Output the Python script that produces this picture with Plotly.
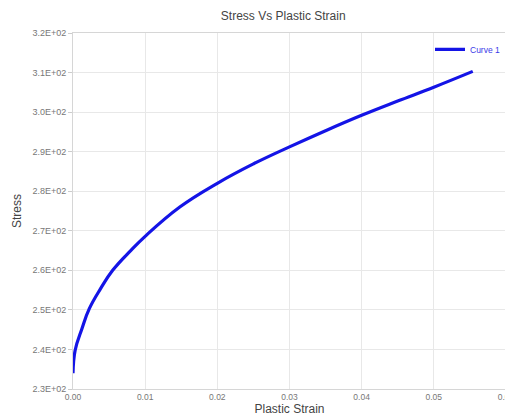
import plotly.graph_objects as go

strain = [0.0, 0.0003, 0.00125, 0.00226, 0.0038, 0.0055, 0.008, 0.01, 0.0148, 0.02, 0.025, 0.03, 0.035, 0.04, 0.045, 0.05, 0.0554]
stress = [234.0, 239.8, 245.3, 250.3, 255.3, 260.0, 265.0, 268.6, 276.0, 282.0, 286.9, 291.2, 295.3, 299.2, 302.8, 306.3, 310.3]

y_tickvals = [230, 240, 250, 260, 270, 280, 290, 300, 310, 320]
y_ticktext = ["2.3E+02", "2.4E+02", "2.5E+02", "2.6E+02", "2.7E+02", "2.8E+02", "2.9E+02", "3.0E+02", "3.1E+02", "3.2E+02"]
x_tickvals = [0.0, 0.01, 0.02, 0.03, 0.04, 0.05, 0.06]
x_ticktext = ["0.00", "0.01", "0.02", "0.03", "0.04", "0.05", "0.06"]

fig = go.Figure()
fig.add_trace(go.Scatter(x=strain, y=stress, mode="lines", name="Curve 1",
                         line=dict(color="#1414e6", width=3.2, shape="spline", smoothing=1.2)))

# page body has an 8px default margin, so the figure is sized/offset to fit the 513x417 window
fig.update_layout(
    width=505, height=409,
    margin=dict(l=65, r=7, t=25, b=28),
    paper_bgcolor="white", plot_bgcolor="white",
    font=dict(family="Liberation Sans, Arial, sans-serif", color="#555"),
    title=dict(text="Stress Vs Plastic Strain", x=0.545, xanchor="center", y=0.99, yanchor="top",
               font=dict(size=12, color="#444")),
    showlegend=True,
    legend=dict(x=1.0, y=0.995, xanchor="right", yanchor="top", bgcolor="rgba(255,255,255,0)",
                font=dict(size=8.5, color="#3a3ae8"), itemwidth=30,
                tracegroupgap=0),
)
fig.update_xaxes(range=[0, 0.06001], tickvals=x_tickvals, ticktext=x_ticktext,
                 tickfont=dict(size=8.5, color="#777"), showgrid=True, gridcolor="#e8e8e8",
                 showline=True, linecolor="#d6d6d6", mirror=True, zeroline=False,
                 ticks="", automargin=False, ticklabeloverflow="allow",
                 title=dict(text="Plastic Strain", font=dict(size=12, color="#444"), standoff=0))
fig.update_yaxes(range=[230, 320], tickvals=y_tickvals, ticktext=y_ticktext,
                 tickfont=dict(size=9, color="#777"), showgrid=True, gridcolor="#e8e8e8",
                 showline=True, linecolor="#d6d6d6", mirror=True, zeroline=False,
                 ticks="outside", ticklen=4, tickcolor="#ccc", automargin=False,
                 title=dict(text="Stress", font=dict(size=12, color="#444"), standoff=8))

fig.write_html("out.html")
